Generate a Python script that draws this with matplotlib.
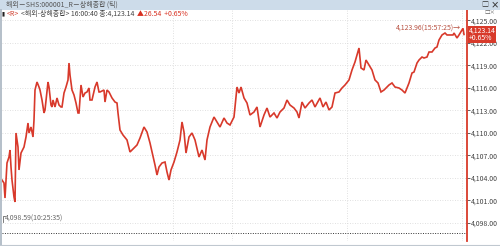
import matplotlib.pyplot as plt
import matplotlib.transforms as mtransforms
from matplotlib.patches import Rectangle
from matplotlib.lines import Line2D

plt.rcParams['font.family'] = ['Noto Sans CJK KR', 'DejaVu Sans']

# tick index (position along the tick axis) and traded price
ticks = [0, 2, 3, 5, 7, 8, 9, 10, 12, 13, 14, 16, 17, 19, 22, 24, 26, 27, 29, 31,
         32, 33, 35, 37, 38, 40, 42, 43, 46, 47, 49, 50, 51, 53, 55, 57, 59, 60, 62, 64,
         66, 67, 68, 70, 72, 74, 76, 77, 79, 81, 83, 85, 87, 88, 90, 93, 95, 97, 98, 102,
         103, 105, 107, 110, 113, 115, 116, 118, 121, 125, 128, 132, 135, 138, 142, 145, 148, 150, 153, 155,
         157, 160, 163, 165, 167, 169, 172, 175, 178, 180, 182, 184, 187, 190, 193, 197, 200, 203, 205, 208,
         212, 215, 218, 222, 225, 228, 232, 233, 235, 237, 239, 242, 245, 248, 252, 255, 258, 262, 265, 268,
         272, 275, 278, 282, 285, 288, 292, 295, 297, 300, 303, 307, 310, 313, 318, 321, 324, 327, 330, 333,
         337, 340, 343, 347, 350, 353, 357, 359, 362, 364, 367, 370, 373, 376, 379, 382, 385, 387, 390, 393,
         397, 400, 403, 407, 410, 412, 415, 417, 420, 422, 425, 427, 430, 433, 435, 437, 440, 443, 445, 448,
         451, 452, 455, 457, 460, 461, 462]
prices = [4103.73, 4103.33, 4101.33, 4106.00, 4106.80, 4107.73, 4105.47, 4103.73, 4101.47, 4100.80,
          4110.00, 4108.13, 4105.07, 4107.33, 4108.13, 4109.47, 4111.33, 4110.00, 4110.80, 4109.47,
          4111.73, 4115.73, 4116.80, 4116.13, 4115.73, 4114.40, 4112.67, 4113.07, 4116.80, 4116.13,
          4113.73, 4113.47, 4114.40, 4113.47, 4114.67, 4113.73, 4113.47, 4113.47, 4115.33, 4116.13,
          4117.07, 4119.33, 4117.73, 4115.73, 4115.07, 4114.00, 4112.67, 4112.67, 4116.40, 4114.80,
          4115.33, 4115.47, 4116.00, 4114.40, 4114.40, 4116.13, 4116.80, 4115.47, 4115.47, 4115.73,
          4114.13, 4115.73, 4115.47, 4114.67, 4114.13, 4114.00, 4112.67, 4110.40, 4109.73, 4109.07,
          4107.47, 4108.00, 4108.40, 4109.33, 4110.80, 4110.13, 4108.67, 4107.47, 4105.73, 4104.40,
          4105.47, 4106.00, 4106.13, 4104.80, 4103.73, 4105.07, 4106.13, 4107.47, 4109.07, 4111.47,
          4110.13, 4107.33, 4109.47, 4110.00, 4109.07, 4106.80, 4107.73, 4106.40, 4109.07, 4110.80,
          4112.13, 4111.47, 4110.80, 4112.00, 4111.33, 4111.07, 4112.13, 4113.47, 4116.13, 4115.33,
          4116.13, 4114.67, 4114.00, 4112.40, 4112.80, 4113.47, 4110.80, 4112.40, 4113.33, 4112.13,
          4112.67, 4112.00, 4112.80, 4113.33, 4114.40, 4113.73, 4113.33, 4112.80, 4112.00, 4114.13,
          4113.33, 4114.00, 4114.40, 4113.47, 4114.67, 4113.47, 4114.13, 4113.07, 4113.47, 4115.33,
          4115.47, 4116.00, 4116.40, 4117.07, 4118.40, 4119.47, 4121.33, 4118.67, 4118.40, 4119.73,
          4119.07, 4118.40, 4117.07, 4116.67, 4115.47, 4115.73, 4116.13, 4116.40, 4116.67, 4116.13,
          4116.00, 4115.73, 4115.33, 4116.67, 4118.00, 4118.13, 4119.33, 4119.73, 4120.13, 4120.00,
          4120.13, 4120.80, 4120.80, 4121.33, 4121.47, 4122.40, 4123.07, 4123.33, 4123.07, 4123.07,
          4123.07, 4123.33, 4122.67, 4123.07, 4123.73, 4123.96, 4123.14]

yticks = [4098, 4101, 4104, 4107, 4110, 4113, 4116, 4119, 4122, 4125]
time_grid = [171, 230, 345, 460]
prev_close = 4096.60
last_price = 4123.14
max_label = '4,123.96(15:57:25)→'
min_label = '4,098.59(10:25:35)'
title = '해외－SHS:000001_R－상해종합 (틱)'

W, H = 500, 246
fig = plt.figure(figsize=(W / 100, H / 100), dpi=100)
fig.patch.set_facecolor('white')

# title bar
fig.patches.append(Rectangle((0, 1 - 10 / H), 1, 10 / H, transform=fig.transFigure,
                             facecolor='#cddcea', edgecolor='none', zorder=0))
fig.text(6 / W, 1 - 5 / H, title, fontsize=5, color='#555555', va='center', ha='left')
fig.text(485 / W, 1 - 5 / H, '□', fontsize=5, color='#333333', va='center', ha='center')
fig.text(495 / W, 1 - 5 / H, '×', fontsize=6, color='#333333', va='center', ha='center',
         fontweight='bold')

# legend row
ly = 1 - 13.5 / H
fig.text(2 / W, ly, '▮', fontsize=4, color='#222222', va='center')
fig.text(7 / W, ly, '<R>', fontsize=5, color='#d04030', va='center')
fig.text(21 / W, ly, '<해외-상해종합> 16:00:40 종:4,123.14', fontsize=5, color='#444444', va='center')
fig.text(137 / W, ly, '▲26.54  +0.65%', fontsize=5, color='#d83020', va='center')
fig.text(490 / W, 1 - 12 / H, '□×', fontsize=4, color='#666666', va='center', ha='center')

# borders
fig.lines.append(Line2D([0.8 / W, 0.8 / W], [0, 1 - 10 / H], transform=fig.transFigure,
                        color='#a8b4c0', lw=1.2))
fig.lines.append(Line2D([0, 1], [1.5 / H, 1.5 / H], transform=fig.transFigure,
                        color='#c0c8d0', lw=0.8))

ax = fig.add_axes([2 / W, 5 / H, 465 / W, 231 / H])
ax.set_facecolor('none')
ax.set_xlim(0, 465)
ax.set_ylim(4125 - (241 - 20.5) / 7.5, 4125 + (20.5 - 10) / 7.5)

for s in ['left', 'top', 'bottom']:
    ax.spines[s].set_visible(False)
ax.spines['right'].set_color('#d83a2a')
ax.spines['right'].set_linewidth(1.3)

ax.yaxis.tick_right()
ax.set_yticks(yticks)
ax.set_yticklabels([f'{v:,.2f}' for v in yticks])
ax.tick_params(axis='y', labelsize=5, colors='#444444', length=2, width=0.6, pad=1)
ax.set_xticks([])

for v in yticks:
    ax.axhline(v, color='#d6d6d6', lw=0.6, ls=(0, (1, 2)), zorder=1)
for t in time_grid:
    ax.axvline(t, color='#d6d6d6', lw=0.6, ls=(0, (1, 2)), zorder=1)

ax.axhline(prev_close, color='#333333', lw=0.7, ls=(0, (1, 1.5)), zorder=2)

ax.plot(ticks, prices, color='#d8392b', lw=1.2, zorder=3, solid_joinstyle='miter')

ax.text(459, max(prices), max_label, fontsize=5, color='#b85040', ha='right', va='center')
ax.text(3, 4098.59, min_label, fontsize=5, color='#666666', ha='left', va='center')
ax.plot([0.5, 0.5, 2.5], [4098.1, 4098.9, 4098.9], color='#666666', lw=0.6)

trans = mtransforms.blended_transform_factory(ax.transAxes, ax.transData)
ax.text(1.003, last_price, '4,123.14\n+0.65%', transform=trans, fontsize=5, color='white',
        ha='left', va='center', linespacing=0.85, clip_on=False, zorder=5,
        bbox=dict(boxstyle='square,pad=0.12', facecolor='#d83a2a', edgecolor='none'))

fig.savefig('out.png', dpi=100)
